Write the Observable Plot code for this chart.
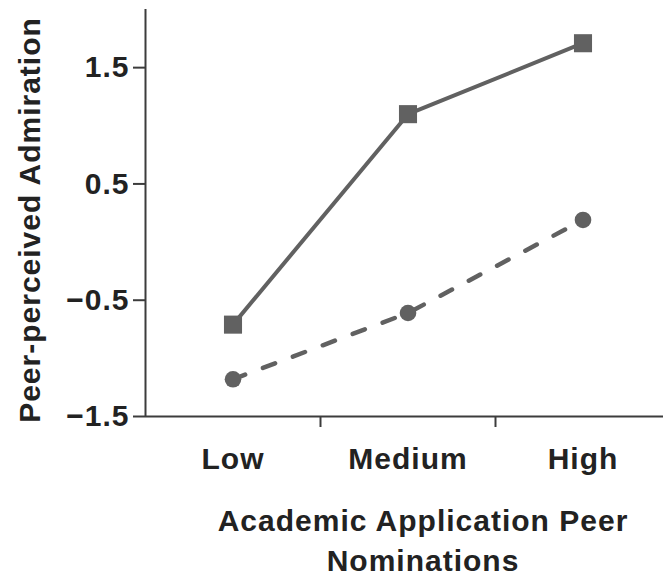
<!DOCTYPE html>
<html>
<head>
<meta charset="utf-8">
<script src="https://cdn.jsdelivr.net/npm/d3@7"></script>
<script src="https://cdn.jsdelivr.net/npm/@observablehq/plot@0.6"></script>
<style>
  html, body { margin: 0; padding: 0; background: #fff; }
</style>
</head>
<body>
<div id="chart"></div>
<script>
// ---- data ----
const categories = ["Low", "Medium", "High"];
const squareSeries = [-0.71, 1.10, 1.71];   // solid line, square markers
const circleSeries = [-1.18, -0.61, 0.19];  // dashed line, circle markers
const yTicks = [1.5, 0.5, -0.5, -1.5];
const yDomain = [-1.5, 2.0];
const xTitle = ["Academic Application Peer", "Nominations"];
const yTitle = "Peer-perceived Admiration";

// ---- build tables ----
const squareRows = categories.map((c, i) => ({cat: c, idx: i + 0.5, value: squareSeries[i]}));
const circleRows = categories.map((c, i) => ({cat: c, idx: i + 0.5, value: circleSeries[i]}));
const boundaries = categories.map((c, i) => i + 1);

const font = "'Liberation Sans', Arial, Helvetica, sans-serif";
const ink = "#222";
const axisInk = "#3c3c3c";
const seriesInk = "#616161";
const fs = 30;

const chart = Plot.plot({
  width: 663,
  height: 582,
  marginLeft: 145,
  marginRight: -7,
  marginTop: 9,
  marginBottom: 166,
  style: {fontFamily: font, fontWeight: "bold", color: ink, background: "#fff", letterSpacing: "1px"},
  x: {domain: [0, categories.length], axis: null},
  y: {domain: yDomain, axis: null},
  marks: [
    // axis lines
    Plot.ruleX([0], {stroke: axisInk, strokeWidth: 2}),
    Plot.ruleY([yDomain[0]], {stroke: axisInk, strokeWidth: 2}),
    // y ticks + labels
    Plot.axisY({ticks: yTicks, tickSize: 12, tickPadding: 4, tickFormat: d3.format(".1f"),
      fontSize: fs, fontWeight: "bold", stroke: axisInk, strokeWidth: 2, fill: ink, label: null}),
    // x ticks at category boundaries
    Plot.axisX({ticks: boundaries, tickSize: 11, tickFormat: () => "", stroke: axisInk, strokeWidth: 2, label: null}),
    // category labels
    Plot.text(categories, {x: (d, i) => i + 0.5, frameAnchor: "bottom", lineAnchor: "middle", textAnchor: "middle", dy: 43,
      fontSize: fs, fontWeight: "bold", fill: ink}),
    // x title
    Plot.text([xTitle.join("\n")], {frameAnchor: "bottom", lineAnchor: "middle", textAnchor: "middle", dx: 15, dy: 122, lineHeight: 1.34,
      fontSize: fs, fontWeight: "bold", fill: ink, style: {letterSpacing: "1.5px"}}),
    // y title
    Plot.text([yTitle], {frameAnchor: "left", lineAnchor: "middle", textAnchor: "middle", dx: -115, dy: 7, rotate: -90,
      fontSize: fs, fontWeight: "bold", fill: ink, style: {letterSpacing: "1.3px"}}),
    // series
    Plot.line(circleRows, {x: "idx", y: "value", stroke: seriesInk, strokeWidth: 4.5, strokeDasharray: "13,19"}),
    Plot.line(squareRows, {x: "idx", y: "value", stroke: seriesInk, strokeWidth: 4}),
    Plot.dot(circleRows, {x: "idx", y: "value", symbol: "circle", r: 8.3, fill: seriesInk, stroke: null}),
    Plot.dot(squareRows, {x: "idx", y: "value", symbol: "square", r: 10.2, fill: seriesInk, stroke: null})
  ]
});

document.getElementById("chart").appendChild(chart);
</script>
</body>
</html>
